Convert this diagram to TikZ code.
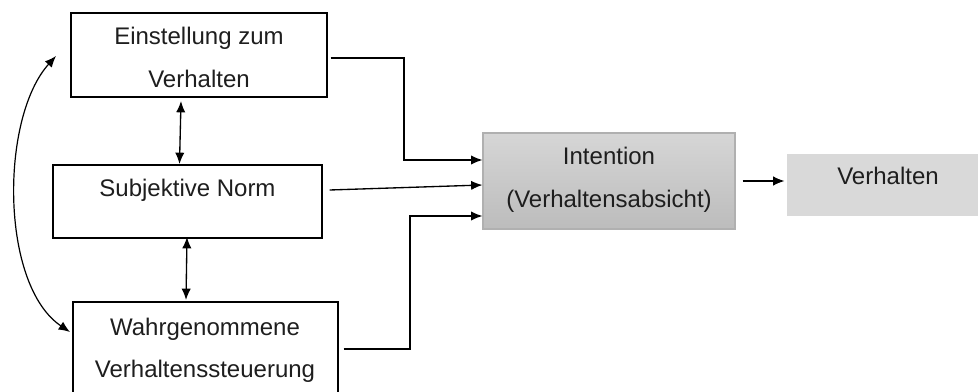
\documentclass[tikz,border=0pt]{standalone}
\usepackage{fontspec}
\setmainfont{Liberation Sans}
\usetikzlibrary{arrows.meta,calc}
\definecolor{txt}{HTML}{1E1E1E}
\definecolor{intTop}{HTML}{D6D6D6}
\definecolor{intBot}{HTML}{BCBCBC}
\definecolor{intBorder}{HTML}{B0B0B0}
\definecolor{verFill}{HTML}{D9D9D9}
\tikzset{
  box/.style={draw=black, line width=1pt, rectangle, inner sep=0pt},
  lbl/.style={anchor=base, inner sep=0pt, text=txt, font=\fontsize{18}{22}\selectfont},
  conn/.style={line width=1pt, -{Latex[length=8.5pt,width=7pt]}},
  biconn/.style={line width=1pt, {Latex[length=8.5pt,width=7pt]}-{Latex[length=8.5pt,width=7pt]}},
}
\begin{document}
\begin{tikzpicture}[x=0.75pt,y=-0.75pt]
\useasboundingbox (0,0) rectangle (978,392);
\clip (0,0) rectangle (978,392);
\fill[white] (0,0) rectangle (978,392);
% boxes
\node[box, minimum width=192pt, minimum height=63pt] (b1) at (199,55) {};
\node[box, minimum width=201.75pt, minimum height=54.75pt] (b2) at (187.5,201.5) {};
\node[box, minimum width=198.75pt, minimum height=81pt] (b3) at (205.5,356) {};
\node[rectangle, draw=intBorder, line width=0.8pt, top color=intTop, bottom color=intBot, minimum width=189pt, minimum height=72pt, inner sep=0pt] (int) at (609,181) {};
\node[rectangle, fill=verFill, minimum width=160pt, minimum height=46.5pt, inner sep=0pt] (ver) at (893.5,185) {};
% texts
\node[lbl] (t1a) at (199,45) {Einstellung zum};
\node[lbl] (t1b) at (199,88) {Verhalten};
\node[lbl] (t2) at (187.5,197) {Subjektive Norm};
\node[lbl] (t3a) at (205,335) {Wahrgenommene};
\node[lbl] (t3b) at (205,377) {Verhaltenssteuerung};
\node[lbl] (t4a) at (609,165) {Intention};
\node[lbl] (t4b) at (609,208) {(Verhaltensabsicht)};
\node[lbl] (t5) at (888,185) {Verhalten};
% connectors
\coordinate (s1) at ($(b1.east)+(3,3)$);
\coordinate (e1) at ($(int.west)+(0,-21)$);
\draw[conn] (s1) -| (404,160) -- (e1);
\coordinate (s2) at ($(b2.east)+(7,-11.5)$);
\coordinate (e2) at ($(int.west)+(0,4)$);
\draw[conn] (s2) -- (e2);
\coordinate (s3) at ($(b3.east)+(5,-7)$);
\coordinate (e3) at ($(int.west)+(0,35)$);
\draw[conn] (s3) -| (410,216) -- (e3);
\coordinate (s4) at ($(int.east)+(7,0)$);
\coordinate (e4) at ($(ver.west)+(-2,-4)$);
\draw[conn] (s4) -- (e4);
% vertical double arrows
\coordinate (v1a) at (181,101);
\coordinate (v1b) at (179.5,164);
\draw[biconn] (v1a) -- (v1b);
\coordinate (v2a) at (187,237);
\coordinate (v2b) at (186,300);
\draw[biconn] (v2a) -- (v2b);
% curved arrow
\coordinate (c1) at (56,56);
\coordinate (c2) at (70,332);
\draw[biconn, line width=0.9pt] (c1) .. controls (0,118) and (0,285) .. (c2);
\end{tikzpicture}
\end{document}
